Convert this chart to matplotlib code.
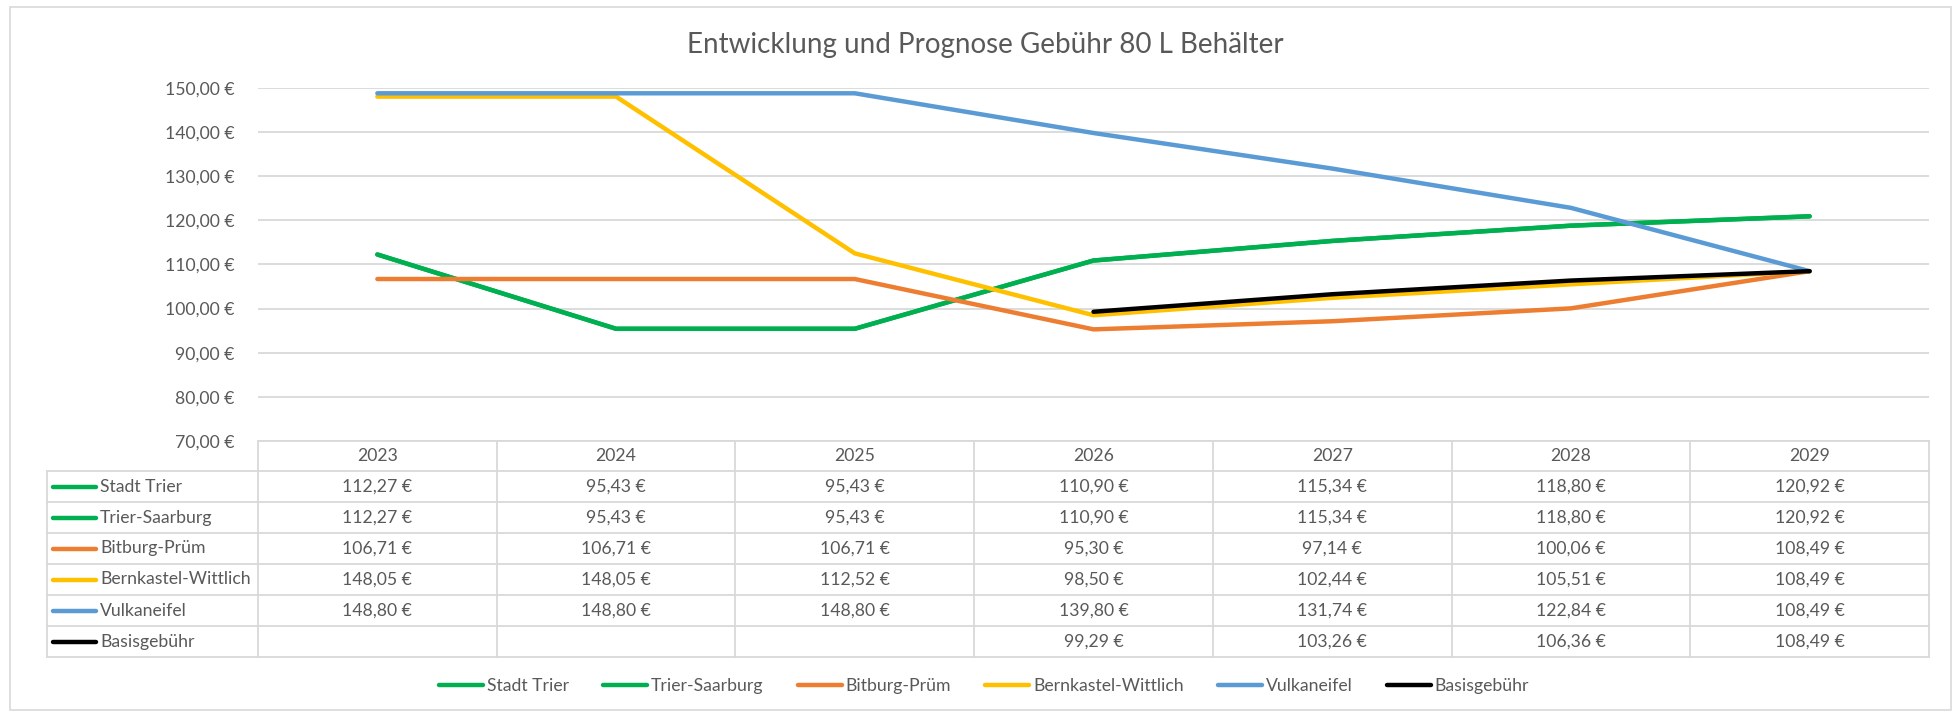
import numpy as np
import matplotlib
matplotlib.use("Agg")
import matplotlib.pyplot as plt
from matplotlib.patches import Rectangle
from matplotlib.lines import Line2D

plt.rcParams['font.family'] = ['Lato', 'DejaVu Sans']

title = "Entwicklung und Prognose Gebühr 80 L Behälter"
years = ["2023", "2024", "2025", "2026", "2027", "2028", "2029"]
series_names = ["Stadt Trier", "Trier-Saarburg", "Bitburg-Prüm",
                "Bernkastel-Wittlich", "Vulkaneifel", "Basisgebühr"]
stadt_trier = [112.27, 95.43, 95.43, 110.90, 115.34, 118.80, 120.92]
trier_saarburg = [112.27, 95.43, 95.43, 110.90, 115.34, 118.80, 120.92]
bitburg_pruem = [106.71, 106.71, 106.71, 95.30, 97.14, 100.06, 108.49]
bernkastel = [148.05, 148.05, 112.52, 98.50, 102.44, 105.51, 108.49]
vulkaneifel = [148.80, 148.80, 148.80, 139.80, 131.74, 122.84, 108.49]
basis = [None, None, None, 99.29, 103.26, 106.36, 108.49]
colors = ["#00B050", "#00B050", "#ED7D31", "#FFC000", "#5B9BD5", "#000000"]
yticks = [70, 80, 90, 100, 110, 120, 130, 140, 150]

all_series = [stadt_trier, trier_saarburg, bitburg_pruem, bernkastel, vulkaneifel, basis]

W, H = 1955, 713
fig = plt.figure(figsize=(W / 100, H / 100), dpi=100)
TXT = "#595959"
GRID = "#D9D9D9"
FS = 12.7


def fx(px):
    return px / W


def fy(py):
    return 1 - py / H


def eur(v):
    return f"{v:.2f}".replace(".", ",") + " €"


# outer border
fig.patches.append(Rectangle((fx(10), fy(710)), fx(1951 - 10), (710 - 7) / H,
                             transform=fig.transFigure, fill=False,
                             edgecolor=GRID, lw=1.2))

# plot area
left, right, top, bottom = 258, 1929, 88, 441
ax = fig.add_axes([fx(left), fy(bottom), fx(right - left), (bottom - top) / H])
x = np.arange(len(years))
for name, vals, c in zip(series_names, all_series, colors):
    v = np.array([np.nan if a is None else a for a in vals], dtype=float)
    ax.plot(x, v, color=c, lw=3.2, solid_capstyle='round', solid_joinstyle='round',
            label=name, zorder=3)
ax.set_xlim(-0.5, len(years) - 0.5)
ax.set_ylim(70, 150)
ax.set_yticks(yticks)
ax.set_yticklabels([eur(t) for t in yticks], color=TXT, fontsize=FS)
ax.set_xticks([])
ax.tick_params(axis='y', length=0, pad=17)
ax.grid(axis='y', color=GRID, lw=1.3, zorder=0)
for s in ax.spines.values():
    s.set_visible(False)

fig.text(fx(985), fy(45), title, ha='center', va='center', fontsize=20, color=TXT)

# data table
tleft = 47
row_h = 31
header_top = 441
nrows = len(series_names)
col_w = (right - left) / len(years)
lw_t = 1.3

def hline(y, x0, x1):
    fig.lines.append(Line2D([fx(x0), fx(x1)], [fy(y), fy(y)], transform=fig.transFigure,
                            color=GRID, lw=lw_t))

def vline(xp, y0, y1):
    fig.lines.append(Line2D([fx(xp), fx(xp)], [fy(y0), fy(y1)], transform=fig.transFigure,
                            color=GRID, lw=lw_t))

header_bot = header_top + 30
table_bot = header_bot + nrows * row_h
hline(header_top, left, right)
hline(header_bot, tleft, right)
for i in range(1, nrows + 1):
    hline(header_bot + i * row_h, tleft, right)
for j in range(len(years) + 1):
    vline(left + j * col_w, header_top, table_bot)
vline(tleft, header_bot, table_bot)

for j, yr in enumerate(years):
    fig.text(fx(left + (j + 0.5) * col_w), fy((header_top + header_bot) / 2), yr,
             ha='center', va='center', fontsize=FS, color=TXT)

for i, (name, vals, c) in enumerate(zip(series_names, all_series, colors)):
    yc = header_bot + (i + 0.5) * row_h
    fig.lines.append(Line2D([fx(53), fx(96)], [fy(yc), fy(yc)], transform=fig.transFigure,
                            color=c, lw=3.2, solid_capstyle='round'))
    fig.text(fx(100), fy(yc), name, ha='left', va='center', fontsize=FS, color=TXT)
    for j, v in enumerate(vals):
        if v is None:
            continue
        fig.text(fx(left + (j + 0.5) * col_w), fy(yc), eur(v),
                 ha='center', va='center', fontsize=FS, color=TXT)

# bottom legend
handles, labels = ax.get_legend_handles_labels()
leg = fig.legend(handles, labels, loc='center', bbox_to_anchor=(fx(984), fy(686)),
                 ncol=6, frameon=False, fontsize=FS, handlelength=2.5,
                 handletextpad=0.2, columnspacing=1.95, labelcolor=TXT)

fig.savefig("out.png", dpi=100)
